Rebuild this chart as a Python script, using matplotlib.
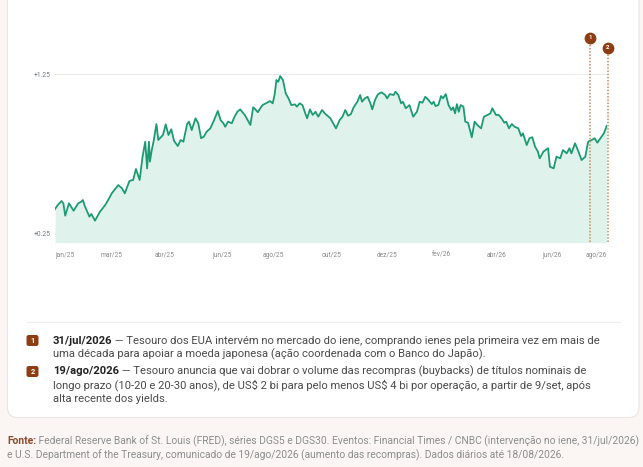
import matplotlib.pyplot as plt
import matplotlib.transforms as mtransforms
import pandas as pd
from matplotlib.patches import FancyBboxPatch

# 30y - 5y Treasury spread (p.p.)
start = pd.Timestamp('2025-01-02')
days = [0, 3, 7, 9, 11, 15, 20, 25, 28, 30, 32, 37, 39, 43, 48, 54, 58, 61, 64, 68,
        72, 75, 80, 84, 87, 91, 94, 97, 99, 101, 102, 104, 106, 109, 111, 116, 119, 122,
        125, 128, 132, 135, 138, 142, 144, 147, 151, 154, 157, 160, 163, 167, 171, 175, 178,
        181, 183, 186, 190, 193, 196, 199, 204, 210, 213, 216, 218, 223, 228, 231, 234, 236,
        238, 240, 242, 245,
        248, 251, 254, 258, 260, 263, 266, 269, 271, 274, 277, 280, 283, 287, 290, 296, 298,
        302, 306, 309, 312, 315, 318, 321, 325, 328, 330, 333, 336, 339, 341, 344, 347, 351,
        355, 357, 360, 364, 366, 369,
        372, 374, 377, 381, 385, 389, 392, 395, 398, 401, 405, 407, 409, 412, 415, 417, 420,
        423, 426, 428, 430, 432, 434, 436, 439, 441, 444, 448, 451, 454, 458, 461, 465, 468,
        470, 474, 477, 480, 483, 485, 488, 491, 494,
        498, 501, 503, 507, 510, 513, 516, 519, 521, 525, 530, 532, 536, 539, 543, 546, 550,
        553, 555, 559, 562, 566, 570, 573, 577, 580, 583, 587, 590, 593]
spread = [0.405, 0.430, 0.455, 0.440, 0.363, 0.441, 0.394, 0.441, 0.450, 0.461, 0.424, 0.357,
          0.374, 0.332, 0.385, 0.430, 0.470, 0.503, 0.525, 0.555, 0.535, 0.503, 0.581, 0.587,
          0.656, 0.587, 0.729, 0.827, 0.660, 0.827, 0.702, 0.775, 0.830, 0.938, 0.838, 0.869,
          0.936, 0.869,
          0.905, 0.832, 0.800, 0.838, 0.827, 0.938, 0.953, 0.900, 0.974, 0.943, 0.849, 0.859,
          0.890, 0.911, 0.963, 1.020, 0.963, 0.943, 0.921, 0.953, 0.943, 0.984, 1.015, 1.030,
          0.995, 0.932, 1.043, 1.026, 1.012, 1.057, 1.072, 1.082, 1.068, 1.120, 1.214, 1.203,
          1.239, 1.214,
          1.130, 1.099, 1.057, 1.061, 1.047, 1.068, 1.057, 1.005, 0.974, 1.030, 0.995, 1.015,
          0.984, 1.026, 1.005, 0.974, 0.953, 0.911, 0.963, 0.984, 1.026, 0.990, 1.000, 1.043,
          1.078, 1.120, 1.078, 1.099, 1.109, 1.068, 1.030, 1.089, 1.124, 1.137, 1.120, 1.099,
          1.126, 1.120, 1.141, 1.120,
          1.068, 1.078, 1.037, 1.057, 0.984, 1.015, 1.078, 1.072, 1.109, 1.092, 1.063, 1.078,
          1.051, 1.057, 1.114, 1.099, 1.126, 1.057, 1.026, 1.043, 1.005, 1.063, 1.015, 1.057,
          1.047, 0.953, 0.946, 0.855, 0.953, 0.932, 0.911, 0.984, 0.995, 1.005, 1.037, 0.995,
          0.995, 0.974, 0.946, 0.953, 0.911, 0.938, 0.921,
          0.911, 0.863, 0.880, 0.806, 0.849, 0.855, 0.796, 0.765, 0.723, 0.765, 0.786, 0.670,
          0.660, 0.733, 0.723, 0.775, 0.754, 0.786, 0.754, 0.817, 0.775, 0.712, 0.733, 0.827,
          0.838, 0.849, 0.821, 0.855, 0.880, 0.926]

tick_dates = ['2025-01-02', '2025-03-04', '2025-04-30', '2025-06-30', '2025-08-25', '2025-10-26',
              '2025-12-25', '2026-02-21', '2026-04-22', '2026-06-20', '2026-08-18']
tick_labels = ['jan/25', 'mar/25', 'abr/25', 'jun/25', 'ago/25', 'out/25',
               'dez/25', 'fev/26', 'abr/26', 'jun/26', 'ago/26']
y_ticks = [0.25, 1.25]
y_labels = ['+0.25', '+1.25']

event_ids = ['1', '2']
event_dates = ['2026-07-31', '2026-08-19']
event_titles = ['31/jul/2026', '19/ago/2026']
event_lines = [
    [' — Tesouro dos EUA intervém no mercado do iene, comprando ienes pela primeira vez em mais de',
     'uma década para apoiar a moeda japonesa (ação coordenada com o Banco do Japão).'],
    [' — Tesouro anuncia que vai dobrar o volume das recompras (buybacks) de títulos nominais de',
     'longo prazo (10-20 e 20-30 anos), de US$ 2 bi para pelo menos US$ 4 bi por operação, a partir de 9/set, após',
     'alta recente dos yields.'],
]
source_lines = [
    ' Federal Reserve Bank of St. Louis (FRED), séries DGS5 e DGS30. Eventos: Financial Times / CNBC (intervenção no iene, 31/jul/2026)',
    'e U.S. Department of the Treasury, comunicado de 19/ago/2026 (aumento das recompras). Dados diários até 18/08/2026.',
]

FONT = ['Roboto', 'DejaVu Sans']
GREEN = '#1c9b73'
FILL = '#e0f2ec'
BROWN = '#8e3c12'
DOT = '#c98a5e'

plt.rcParams['font.family'] = FONT

dates = start + pd.to_timedelta(days, unit='D')

fig = plt.figure(figsize=(6.43, 4.67), dpi=100)
fig.patch.set_facecolor('#fbf6f4')

# background layer in pixel units
bg = fig.add_axes([0, 0, 1, 1])
bg.set_xlim(0, 643)
bg.set_ylim(467, 0)
bg.axis('off')
bg.add_patch(FancyBboxPatch((7.5, -40), 631.5, 457.5,
                            boxstyle='round,pad=0,rounding_size=10',
                            fc='white', ec='#ebe6e3', lw=0.8))
bg.plot([27, 620], [322, 322], color='#efefef', lw=0.9)

# chart
ax = fig.add_axes([55 / 643, 1 - 242.7 / 467, 551.7 / 643, 212.7 / 467])
ax.set_facecolor('none')
ymin = 0.1935
ax.fill_between(dates, spread, ymin, color=FILL, lw=0)
ax.plot(dates, spread, color=GREEN, lw=1.3, solid_joinstyle='round')
ax.set_xlim(dates[0], dates[-1])
ax.set_ylim(ymin, 1.528)

ax.set_yticks(y_ticks)
ax.set_yticklabels(y_labels)
ax.grid(axis='y', color='#ebebeb', lw=0.8)
ax.set_axisbelow(True)
ax.set_xticks(pd.to_datetime(tick_dates))
ax.set_xticklabels(tick_labels)
ax.tick_params(axis='x', length=0, pad=6.5, labelsize=4.8, labelcolor='#8a8a8a')
ax.tick_params(axis='y', length=0, pad=3, labelsize=4.8, labelcolor='#6f7688')
xl = ax.get_xticklabels()
xl[0].set_ha('left')
xl[-1].set_ha('right')
for s in ax.spines.values():
    s.set_visible(False)

# event markers
trans = mtransforms.blended_transform_factory(ax.transData, ax.transAxes)
marker_y = [0.964, 0.917]
for num, d, my in zip(event_ids, event_dates, marker_y):
    d = pd.Timestamp(d)
    ax.plot([d, d], [0.003, my], transform=trans, color=DOT, lw=1.1,
            linestyle=(0, (1, 1.1)), clip_on=False)
    ax.scatter([d], [my], transform=trans, s=56, color=BROWN, zorder=5, clip_on=False)
    ax.text(d, my, num, transform=trans, ha='center', va='center', color='white',
            fontsize=4.3, fontweight='bold', zorder=6, clip_on=False)

# notes
fig.canvas.draw()
rend = fig.canvas.get_renderer()
note_y = [340.5, 371.5]
line_h = 13.8
for num, title, lines, y0 in zip(event_ids, event_titles, event_lines, note_y):
    bg.add_patch(FancyBboxPatch((26.5, y0 - 5.5), 12, 11,
                                boxstyle='round,pad=0,rounding_size=2.2',
                                fc=BROWN, ec='none'))
    bg.text(32.5, y0 + 0.3, num, ha='center', va='center', color='white',
            fontsize=5.4, fontweight='bold')
    t = bg.text(53, y0, title, ha='left', va='center', color='#222222',
                fontsize=8.1, fontweight='bold')
    w = t.get_window_extent(rend).width
    for i, ln in enumerate(lines):
        x = 53 + w if i == 0 else 53
        bg.text(x, y0 + i * line_h, ln, ha='left', va='center', color='#4a4a4a',
                fontsize=8.1, parse_math=False)

# source
t = bg.text(7, 441.5, 'Fonte:', ha='left', va='center', color='#8c4a2c',
            fontsize=7.35, fontweight='bold')
w = t.get_window_extent(rend).width
bg.text(7 + w, 441.5, source_lines[0], ha='left', va='center', color='#8d8d8d', fontsize=7.35)
bg.text(7, 455, source_lines[1], ha='left', va='center', color='#8d8d8d', fontsize=7.35)

fig.savefig('out.png', dpi=100, facecolor=fig.get_facecolor())
